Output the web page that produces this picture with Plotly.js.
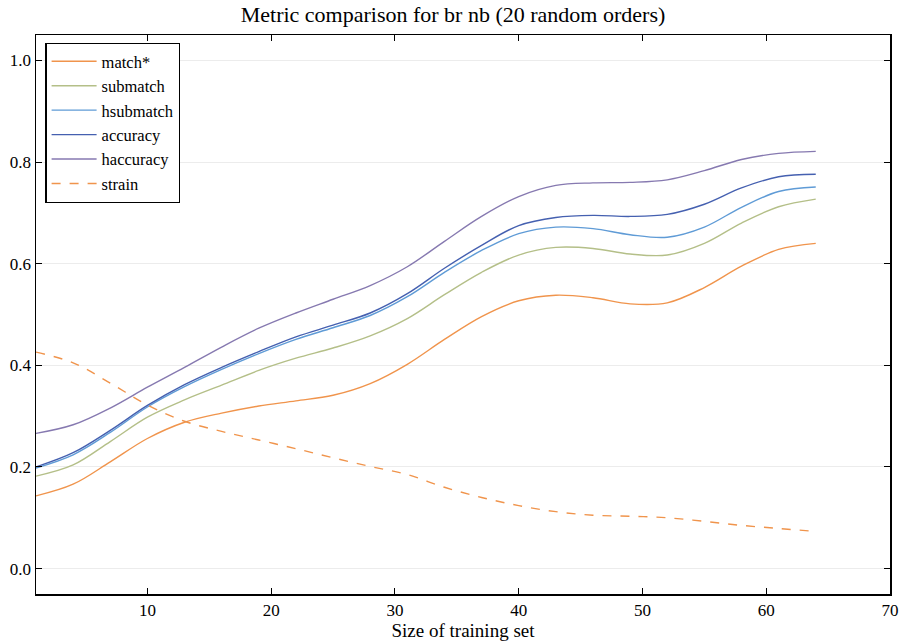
<!DOCTYPE html>
<html>
<head>
<meta charset="utf-8">
<script src="https://cdn.plot.ly/plotly-3.0.1.min.js"></script>
<style>html,body{margin:0;padding:0;background:#fff;}#chart{width:906px;height:644px;}</style>
</head>
<body>
<div id="chart"></div>
<script>
const xs = [1, 4, 7, 10, 13, 16, 19, 22, 25, 28, 31, 34, 37, 40, 43, 46, 49, 52, 55, 58, 61, 64];
const matchStar = [0.143, 0.166, 0.210, 0.256, 0.288, 0.306, 0.320, 0.330, 0.341, 0.364, 0.402, 0.451, 0.496, 0.527, 0.538, 0.533, 0.521, 0.523, 0.553, 0.595, 0.628, 0.640];
const submatch  = [0.182, 0.204, 0.250, 0.298, 0.332, 0.361, 0.390, 0.414, 0.434, 0.458, 0.492, 0.539, 0.583, 0.617, 0.632, 0.630, 0.619, 0.617, 0.640, 0.680, 0.712, 0.727];
const hsubmatch = [0.198, 0.224, 0.268, 0.318, 0.358, 0.392, 0.423, 0.451, 0.474, 0.498, 0.535, 0.583, 0.626, 0.659, 0.672, 0.669, 0.657, 0.652, 0.672, 0.711, 0.742, 0.751];
const accuracy  = [0.200, 0.228, 0.272, 0.321, 0.362, 0.396, 0.427, 0.456, 0.479, 0.503, 0.541, 0.591, 0.636, 0.675, 0.691, 0.695, 0.693, 0.697, 0.717, 0.749, 0.771, 0.776];
const haccuracy = [0.266, 0.283, 0.316, 0.357, 0.396, 0.436, 0.473, 0.503, 0.530, 0.557, 0.594, 0.644, 0.693, 0.732, 0.754, 0.759, 0.760, 0.765, 0.783, 0.805, 0.817, 0.821];
const strain    = [0.426, 0.405, 0.365, 0.322, 0.290, 0.270, 0.253, 0.236, 0.218, 0.201, 0.185, 0.160, 0.140, 0.124, 0.112, 0.105, 0.103, 0.100, 0.093, 0.085, 0.079, 0.073];

const names = ["match*", "submatch", "hsubmatch", "accuracy", "haccuracy", "strain"];
const series = [matchStar, submatch, hsubmatch, accuracy, haccuracy, strain];
const colors = ["#f0944c", "#b4bf88", "#5f9bd6", "#4560b0", "#8679b0", "#f0944c"];
const dashes = ["solid", "solid", "solid", "solid", "solid", "dash"];

const traces = series.map((s, i) => ({
  x: xs, y: s, name: names[i], type: "scatter", mode: "lines",
  line: {color: colors[i], width: 1.4, dash: dashes[i], shape: "spline", smoothing: 1}
}));

const font = "Liberation Serif";
const layout = {
  width: 906, height: 644,
  margin: {l: 36, r: 16, t: 35, b: 50},
  paper_bgcolor: "#fff", plot_bgcolor: "#fff",
  font: {family: font, size: 16, color: "#000"},
  title: {text: "Metric comparison for br nb (20 random orders)", font: {family: font, size: 22, color: "#000"}, x: 0.5, xanchor: "center", y: 0.99, yanchor: "top"},
  xaxis: {
    range: [1, 70], dtick: 10, tick0: 0, ticks: "inside", ticklen: 6, tickcolor: "#000",
    showline: true, linecolor: "#000", linewidth: 1.5, mirror: "ticks", showgrid: false, zeroline: false,
    title: {text: "Size of training set", font: {family: font, size: 19, color: "#000"}, standoff: 3},
    tickfont: {family: font, size: 17, color: "#000"}
  },
  yaxis: {
    range: [-0.05, 1.05], dtick: 0.2, tick0: 0, tickformat: ".1f", ticks: "inside", ticklen: 6, tickcolor: "#000",
    showline: true, linecolor: "#000", linewidth: 1.5, mirror: "ticks", showgrid: true, gridcolor: "#ececec", zeroline: false,
    tickfont: {family: font, size: 17, color: "#000"}
  },
  legend: {
    x: 0.011, y: 0.986, xanchor: "left", yanchor: "top",
    bordercolor: "#000", borderwidth: 1.2, bgcolor: "#fff", itemwidth: 45,
    font: {family: font, size: 16.5, color: "#000"}, tracegroupgap: 0
  },
  showlegend: true
};

Plotly.newPlot("chart", traces, layout, {displayModeBar: false, staticPlot: true});
</script>
</body>
</html>
